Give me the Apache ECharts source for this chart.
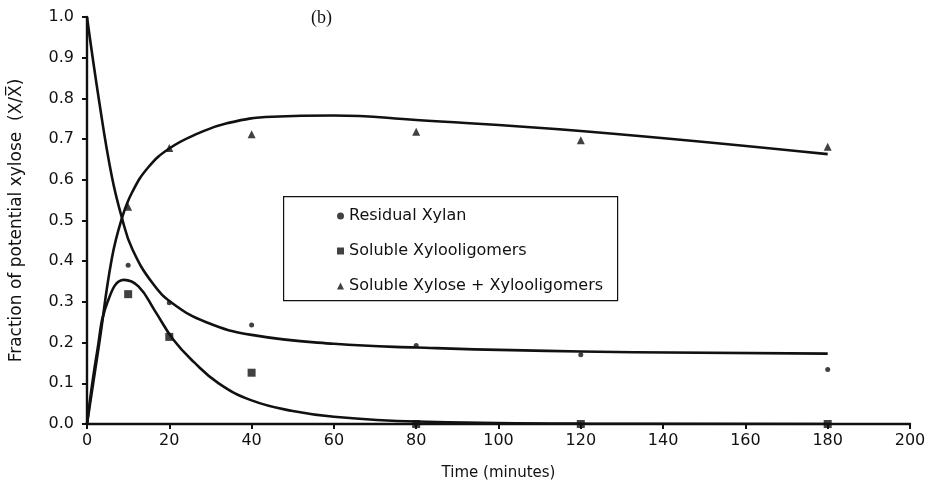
<!DOCTYPE html>
<html>
<head>
<meta charset="utf-8">
<script src="https://cdn.jsdelivr.net/npm/echarts@6/dist/echarts.min.js"></script>
<style>
  html, body { margin: 0; padding: 0; background: #fff; }
  #chart { width: 933px; height: 497px; }
</style>
</head>
<body>
<div id="chart"></div>
<script>
// Measured fractions of potential xylose at each sampling time (minutes)
const sampleTimes = [10, 20, 40, 80, 120, 180];
const residualXylan = [0.39, 0.298, 0.243, 0.193, 0.17, 0.134];
const solubleOligomers = [0.319, 0.214, 0.126, 0.0, 0.0, 0.0];
const solubleTotal = [0.534, 0.678, 0.712, 0.718, 0.697, 0.681];

// Fitted model curves
const xylanCurveT = [0, 3, 6, 8.5, 11, 16, 21, 29, 40, 60, 80, 120, 180];
const xylanCurveV = [1.0, 0.79, 0.61, 0.506, 0.43, 0.345, 0.295, 0.25, 0.219, 0.197, 0.188, 0.178, 0.173];

const oligoCurveT = [0, 2.5, 5, 9, 12.5, 16.5, 21, 26, 32, 40, 50, 60, 80, 120, 180];
const oligoCurveV = [0, 0.18, 0.3, 0.354, 0.338, 0.278, 0.207, 0.152, 0.1, 0.058, 0.032, 0.018, 0.006, 0.001, 0];

const totalCurveT = [0, 3, 6, 8.5, 11, 15, 20, 27, 34, 45, 60, 80, 120, 180];
const totalCurveV = [0, 0.2, 0.405, 0.506, 0.57, 0.632, 0.677, 0.714, 0.739, 0.755, 0.758, 0.747, 0.72, 0.663];

// Axis ticks
const xTicks = { min: 0, max: 200, interval: 20 };
const yTicks = { min: 0, max: 1, interval: 0.1 };

const pairs = (xs, ys) => xs.map((x, i) => [x, ys[i]]);

const INK = '#111';
const FONT = 'DejaVu Sans';

const curve = (name, xs, ys) => ({
  name: name,
  type: 'line',
  data: pairs(xs, ys),
  smooth: 0.45,
  showSymbol: false,
  symbol: 'none',
  lineStyle: { color: INK, width: 2.6 },
  z: 3,
  silent: true
});

const chart = echarts.init(document.getElementById('chart'), null, { renderer: 'canvas' });

chart.setOption({
  animation: false,
  backgroundColor: '#fff',
  grid: { left: 84, right: 23, top: 17, bottom: 73, containLabel: false },
  xAxis: {
    type: 'value',
    min: xTicks.min, max: xTicks.max, interval: xTicks.interval,
    name: 'Time (minutes)',
    nameLocation: 'middle',
    nameGap: 42,
    nameTextStyle: { color: INK, fontFamily: FONT, fontSize: 15 },
    axisLine: { lineStyle: { color: INK, width: 2.4 } },
    axisTick: { show: true, inside: false, length: 5, lineStyle: { color: INK, width: 2 } },
    axisLabel: { color: INK, fontFamily: FONT, fontSize: 16, margin: 9 },
    splitLine: { show: false }
  },
  yAxis: {
    type: 'value',
    min: yTicks.min, max: yTicks.max, interval: yTicks.interval,
    name: 'Fraction of potential xylose  (X/X\u0305)',
    nameLocation: 'middle',
    nameGap: 62,
    nameTextStyle: { color: INK, fontFamily: FONT, fontSize: 17 },
    axisLine: { lineStyle: { color: INK, width: 2.4 } },
    axisTick: { show: true, inside: false, length: 5, lineStyle: { color: INK, width: 2 } },
    axisLabel: { color: INK, fontFamily: FONT, fontSize: 16, margin: 13, formatter: v => v.toFixed(1) },
    splitLine: { show: false }
  },
  legend: {
    orient: 'vertical',
    left: 332,
    top: 202,
    itemWidth: 7,
    itemHeight: 7,
    itemGap: 17,
    textStyle: { color: INK, fontFamily: FONT, fontSize: 16, lineHeight: 18 },
    data: [
      { name: 'Residual Xylan', icon: 'circle' },
      { name: 'Soluble Xylooligomers', icon: 'rect' },
      { name: 'Soluble Xylose + Xylooligomers', icon: 'triangle' }
    ]
  },
  graphic: [
    {
      type: 'rect',
      left: 283, top: 196,
      shape: { width: 334, height: 104 },
      style: { fill: '#fff', stroke: INK, lineWidth: 1.2 },
      z: 0
    },
    {
      type: 'text',
      left: 311, top: 9,
      style: { text: '(b)', fill: INK, font: '18px "Liberation Serif", serif' },
      z: 10
    }
  ],
  series: [
    curve('xylanFit', xylanCurveT, xylanCurveV),
    curve('oligoFit', oligoCurveT, oligoCurveV),
    curve('totalFit', totalCurveT, totalCurveV),
    {
      name: 'Residual Xylan',
      type: 'scatter',
      symbol: 'circle',
      symbolSize: 5,
      itemStyle: { color: INK },
      data: pairs(sampleTimes, residualXylan),
      z: 5
    },
    {
      name: 'Soluble Xylooligomers',
      type: 'scatter',
      symbol: 'rect',
      symbolSize: 8,
      itemStyle: { color: INK },
      data: pairs(sampleTimes, solubleOligomers),
      z: 5
    },
    {
      name: 'Soluble Xylose + Xylooligomers',
      type: 'scatter',
      symbol: 'triangle',
      symbolSize: 8,
      itemStyle: { color: INK },
      data: pairs(sampleTimes, solubleTotal),
      z: 5
    }
  ]
});
</script>
</body>
</html>
